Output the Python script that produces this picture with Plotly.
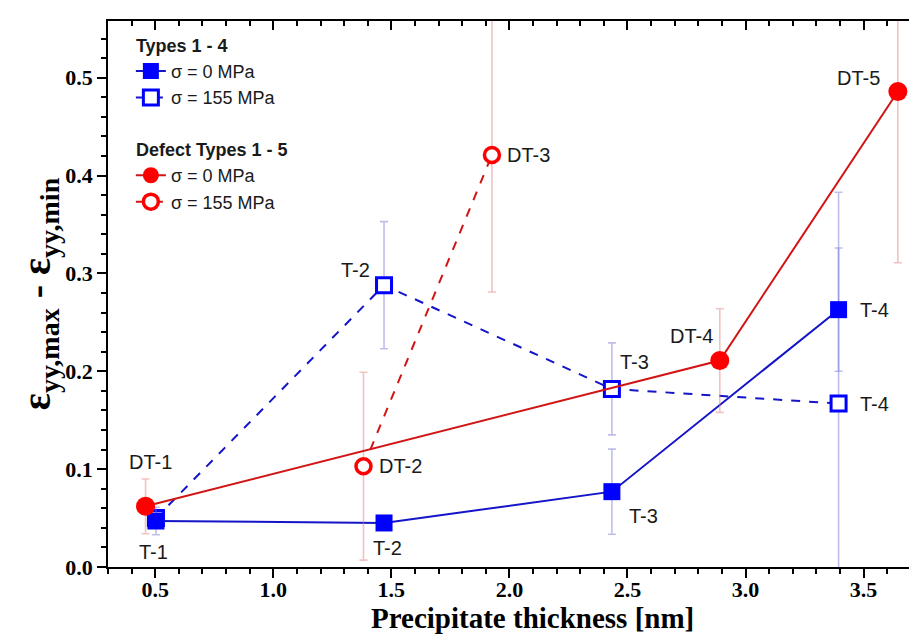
import plotly.graph_objects as go

# ---------------- data ----------------
t_x = [0.503, 1.469, 2.434, 3.394]            # Types 1-4 thickness
t_y0 = [0.047, 0.045, 0.077, 0.263]          # sigma = 0 MPa
t_e0 = [0.014, 0.004, 0.0435, 0.063]
t_y155 = [0.050, 0.288, 0.182, 0.167]        # sigma = 155 MPa
t_e155 = [0.006, 0.065, 0.047, 0.216]
t_labels0 = ["T-1", "T-2", "T-3", "T-4"]
t_labels155 = ["", "T-2", "T-3", "T-4"]

dt_x0 = [0.459, 2.891, 3.645]                 # Defect types 1, 4, 5 at 0 MPa
dt_y0 = [0.062, 0.211, 0.486]
dt_e0 = [0.028, 0.053, 0.175]
dt_labels0 = ["DT-1", "DT-4", "DT-5"]

dt_x155 = [1.382, 1.926]                      # Defect types 2, 3 at 155 MPa
dt_y155 = [0.103, 0.421]
dt_e155 = [0.096, 0.14]
dt_labels155 = ["DT-2", "DT-3"]

x_ticks = [0.5, 1.0, 1.5, 2.0, 2.5, 3.0, 3.5]
y_ticks = [0.0, 0.1, 0.2, 0.3, 0.4, 0.5]
x_title = "Precipitate thickness [nm]"
y_title = "ε<sub>yy,max</sub> - ε<sub>yy,min</sub>"

# ---------------- style ----------------
BLUE = "#0000ff"
BLUE_LINE = "#1414c8"
RED = "#ff0000"
RED_LINE = "#d21414"
BLUE_ERR = "rgba(110,110,210,0.45)"
RED_ERR = "rgba(225,120,120,0.45)"
SERIF = "Liberation Serif"
SANS = "Liberation Sans"
XR = [0.3, 3.76]
YR = [0.0, 0.558]

fig = go.Figure()

fig.add_trace(go.Scatter(
    x=t_x, y=t_y155, mode="lines+markers", name="σ = 155 MPa",
    legendgroup="types", legendrank=2,
    line=dict(color=BLUE_LINE, width=2, dash="dash"),
    marker=dict(symbol="square", size=15, color="white",
                line=dict(color=BLUE, width=3)),
    error_y=dict(type="data", array=t_e155, color=BLUE_ERR, thickness=1.6, width=4),
))
fig.add_trace(go.Scatter(
    x=t_x, y=t_y0, mode="lines+markers", name="σ = 0 MPa",
    legendgroup="types", legendrank=1,
    legendgrouptitle=dict(text="Types 1 - 4"),
    line=dict(color=BLUE_LINE, width=2),
    marker=dict(symbol="square", size=17, color=BLUE, line=dict(width=0)),
    error_y=dict(type="data", array=t_e0, color=BLUE_ERR, thickness=1.6, width=4),
))
fig.add_trace(go.Scatter(
    x=dt_x155, y=dt_y155, mode="lines+markers", name="σ = 155 MPa",
    legendgroup="defects", legendrank=4,
    line=dict(color=RED_LINE, width=2, dash="dash"),
    marker=dict(symbol="circle", size=15, color="white",
                line=dict(color=RED, width=3.5)),
    error_y=dict(type="data", array=dt_e155, color=RED_ERR, thickness=1.6, width=4),
))
fig.add_trace(go.Scatter(
    x=dt_x0, y=dt_y0, mode="lines+markers", name="σ = 0 MPa",
    legendgroup="defects", legendrank=3,
    legendgrouptitle=dict(text="Defect Types 1 - 5"),
    line=dict(color=RED_LINE, width=2),
    marker=dict(symbol="circle", size=19, color=RED, line=dict(width=0)),
    error_y=dict(type="data", array=dt_e0, color=RED_ERR, thickness=1.6, width=4),
))
# dummy trace so that mirrored top/right axes are drawn
fig.add_trace(go.Scatter(x=[], y=[], xaxis="x2", yaxis="y2", showlegend=False))

# ---------------- point labels ----------------
ANN_FONT = dict(family=SANS, size=20, color="#1a1a1a")

def label(x, y, text, xanchor, xshift, yshift):
    if text:
        fig.add_annotation(x=x, y=y, text=text, showarrow=False, xanchor=xanchor,
                           yanchor="middle", xshift=xshift, yshift=yshift, font=ANN_FONT)

# T labels (0 MPa)
label(t_x[0], t_y0[0], t_labels0[0], "center", -2, -31)
label(t_x[1], t_y0[1], t_labels0[1], "center", 3, -25)
label(t_x[2], t_y0[2], t_labels0[2], "left", 15, -24)
label(t_x[3], t_y0[3], t_labels0[3], "left", 19, 0)
# T labels (155 MPa)
label(t_x[1], t_y155[1], t_labels155[1], "center", -29, 15)
label(t_x[2], t_y155[2], t_labels155[2], "left", 6, 27)
label(t_x[3], t_y155[3], t_labels155[3], "left", 19, 0)
# DT labels
label(dt_x0[0], dt_y0[0], dt_labels0[0], "center", 5, 44)
label(dt_x0[1], dt_y0[1], dt_labels0[1], "right", -5, 25)
label(dt_x0[2], dt_y0[2], dt_labels0[2], "right", -16, 13)
label(dt_x155[0], dt_y155[0], dt_labels155[0], "left", 14, 0)
label(dt_x155[1], dt_y155[1], dt_labels155[1], "left", 13, 0)

# x-axis title (centred on the full, partly cropped, frame)
fig.add_annotation(xref="paper", yref="paper", x=0.52, y=-0.094, text=x_title,
                   showarrow=False, xanchor="center", yanchor="middle",
                   font=dict(family=SERIF, size=29, color="black", weight="bold"))

# ---------------- axes ----------------
TICK_FONT = dict(family=SERIF, size=22, color="black", weight="bold")
fig.update_layout(
    width=917, height=635,
    margin=dict(l=100, r=0, t=13, b=76),
    paper_bgcolor="white", plot_bgcolor="white",
    showlegend=True,
    legend=dict(
        x=0.028, y=0.99, xanchor="left", yanchor="top",
        bgcolor="rgba(0,0,0,0)", traceorder="grouped",
        font=dict(family=SANS, size=18, color="#1a1a1a"),
        grouptitlefont=dict(family=SANS, size=18, color="#1a1a1a", weight="bold"),
        tracegroupgap=25, itemwidth=30,
    ),
    xaxis=dict(
        range=XR, tickvals=x_ticks, ticktext=[f"{v:.1f}" for v in x_ticks],
        ticks="outside", ticklen=9, tickwidth=1.5, tickcolor="black",
        showline=True, linecolor="black", linewidth=1.5,
        showgrid=False, zeroline=False, tickfont=TICK_FONT, ticklabelstandoff=-7,
        minor=dict(dtick=0.1, tick0=0.0, ticks="outside", ticklen=5, tickwidth=1.5,
                   tickcolor="black", showgrid=False),
    ),
    yaxis=dict(
        range=YR, tickvals=y_ticks, ticktext=[f"{v:.1f}" for v in y_ticks],
        ticks="outside", ticklen=9, tickwidth=1.5, tickcolor="black",
        showline=True, linecolor="black", linewidth=1.5,
        showgrid=False, zeroline=False, tickfont=TICK_FONT,
        minor=dict(dtick=0.02, tick0=0.0, ticks="outside", ticklen=5, tickwidth=1.5,
                   tickcolor="black", showgrid=False),
        title=dict(text=y_title,
                   font=dict(family=SERIF, size=40, color="black", weight="bold"),
                   standoff=2),
    ),
    xaxis2=dict(
        range=XR, overlaying="x", side="top", tickvals=x_ticks,
        showticklabels=False, ticks="inside", ticklen=9, tickwidth=1.5, tickcolor="black",
        showline=True, linecolor="black", linewidth=1.5, showgrid=False, zeroline=False,
        minor=dict(dtick=0.1, tick0=0.0, ticks="inside", ticklen=5, tickwidth=1.5,
                   tickcolor="black", showgrid=False),
    ),
    yaxis2=dict(
        range=YR, overlaying="y", side="right", tickvals=y_ticks,
        showticklabels=False, ticks="inside", ticklen=6, tickwidth=1.5, tickcolor="black",
        showline=True, linecolor="black", linewidth=1.5, showgrid=False, zeroline=False,
    ),
)

fig.write_html("out.html")
